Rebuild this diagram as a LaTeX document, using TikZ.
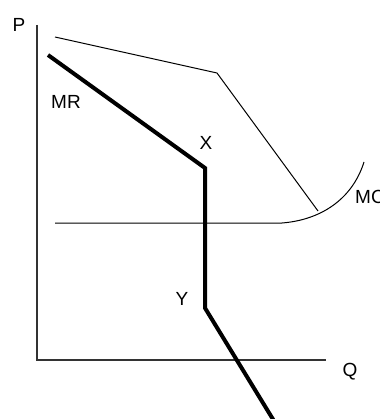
\documentclass[tikz,border=0pt]{standalone}
\usepackage{fontspec}
\setmainfont{Liberation Sans}
\begin{document}
\begin{tikzpicture}[x=1pt,y=-1pt,
  thinline/.style={line width=1pt,black},
  thickline/.style={line width=4pt,black,line join=miter},
  axisline/.style={line width=1.3pt,black!80},
  lbl/.style={font=\fontsize{19}{19}\selectfont,inner sep=0pt}]
\useasboundingbox (0,0) rectangle (379,419);
\clip (0,0) rectangle (379,419);
% axes
\coordinate (ytop) at (37,25);
\coordinate (org) at (37,360);
\coordinate (xend) at (326,360);
\draw[axisline] (ytop) -- (org) -- (xend);
\node[lbl] (P) at (19,25) {P};
\node[lbl] (Q) at (350,372) {Q};
% demand
\coordinate (d0) at (55,37);
\coordinate (dk) at (217,73);
\coordinate (d1) at (318,211);
\draw[thinline] (d0) -- (dk) -- (d1);
% MC
\coordinate (m0) at (55,223);
\coordinate (m1) at (282,223);
\coordinate (m2) at (364,162);
\draw[thinline] (m0) -- (m1) .. controls (320,220) and (352,200) .. (m2);
\node[lbl,anchor=west] (MC) at (355,197) {MC};
% MR
\coordinate (r0) at (48,55);
\coordinate (rx) at (205,168);
\coordinate (ry) at (205,308);
\coordinate (r1) at (274,421);
\draw[thickline] (r0) -- (rx) -- (ry) -- (r1);
\node[lbl] (MR) at (66,102) {MR};
\node[lbl] (X) at (206,143) {X};
\node[lbl] (Y) at (182,299) {Y};
\end{tikzpicture}
\end{document}
